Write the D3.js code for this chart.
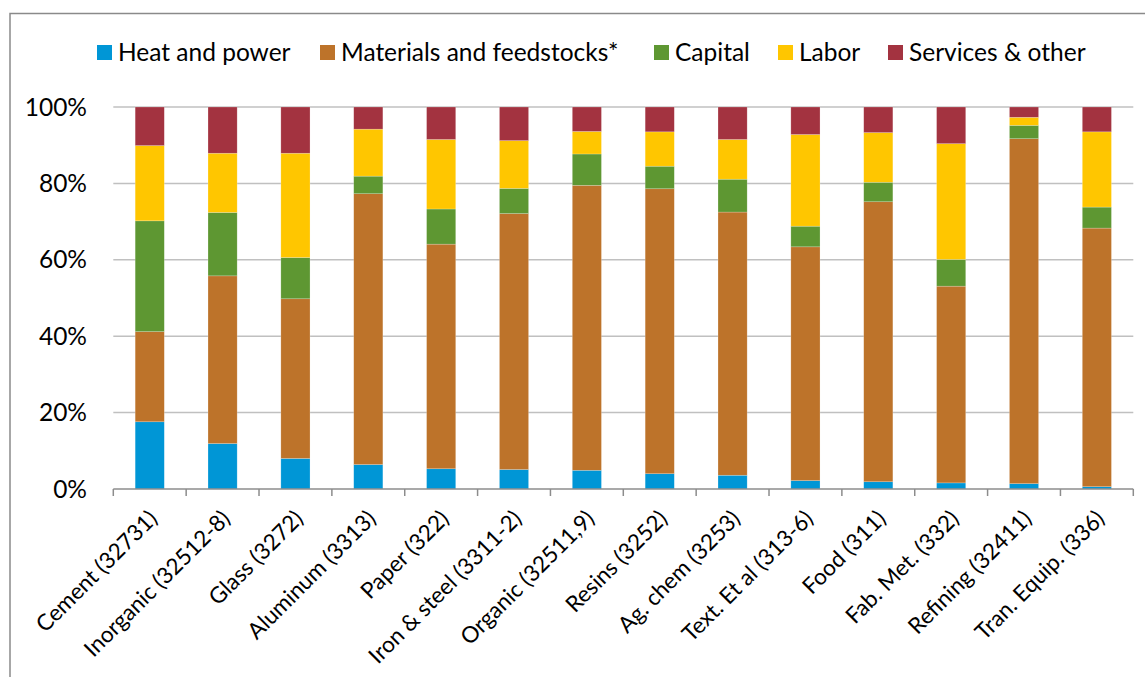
<!DOCTYPE html>
<html>
<head>
<meta charset="utf-8">
<script src="https://cdn.jsdelivr.net/npm/d3@7"></script>
<style>
  html, body { margin: 0; padding: 0; background: #fff; }
  svg { display: block; font-family: Lato, "Open Sans", sans-serif; }
</style>
</head>
<body>
<svg id="chart" width="1145" height="677"></svg>
<script>
const categories = ["Cement (32731)", "Inorganic (32512-8)", "Glass (3272)", "Aluminum (3313)", "Paper (322)",
  "Iron & steel (3311-2)", "Organic (32511,9)", "Resins (3252)", "Ag. chem (3253)", "Text. Et al (313-6)",
  "Food (311)", "Fab. Met. (332)", "Refining (32411)", "Tran. Equip. (336)"];
const seriesNames = ["Heat and power", "Materials and feedstocks*", "Capital", "Labor", "Services & other"];
const heatPower   = [17.6, 11.9,  8.0,  6.4,  5.3,  5.1,  4.9,  4.0,  3.6,  2.2,  1.9,  1.6,  1.4,  0.6];
const materials   = [23.6, 43.9, 41.8, 70.9, 58.8, 67.0, 74.6, 74.6, 68.9, 61.2, 73.3, 51.5, 90.3, 67.7];
const capital     = [29.0, 16.6, 10.8,  4.6,  9.2,  6.6,  8.2,  5.9,  8.6,  5.4,  5.1,  7.0,  3.5,  5.5];
const labor       = [19.7, 15.5, 27.3, 12.3, 18.2, 12.5,  5.9,  9.0, 10.4, 24.0, 13.0, 30.3,  2.1, 19.7];
const services    = [10.1, 12.1, 12.1,  5.8,  8.5,  8.8,  6.4,  6.5,  8.5,  7.2,  6.7,  9.6,  2.7,  6.5];
const yTicks = [0, 0.2, 0.4, 0.6, 0.8, 1.0];
const colors = ["#0096D6", "#BD732A", "#5E9732", "#FFC600", "#A33340"];

const seriesValues = [heatPower, materials, capital, labor, services];
const rows = categories.map((c, i) => {
  const r = { cat: c };
  const tot = d3.sum(seriesValues, s => s[i]);
  seriesNames.forEach((n, k) => r[n] = seriesValues[k][i] / tot);
  return r;
});
const stacked = d3.stack().keys(seriesNames)(rows);

const svg = d3.select("#chart");

// frame
svg.append("rect").attr("x", 10).attr("y", 13.5).attr("width", 1150).attr("height", 700)
  .attr("fill", "none").attr("stroke", "#8a8a8a").attr("stroke-width", 1.5);

const x = d3.scaleBand().domain(categories).range([113.3, 1133.3]).paddingInner(0.6).paddingOuter(0.3);
const y = d3.scaleLinear().domain([0, 1]).range([489, 107]);
const color = d3.scaleOrdinal().domain(seriesNames).range(colors);

// gridlines
svg.append("g").selectAll("line").data(yTicks.filter(t => t > 0)).join("line")
  .attr("x1", 113.3).attr("x2", 1133.3)
  .attr("y1", d => y(d)).attr("y2", d => y(d))
  .attr("stroke", "#c0c0c0").attr("stroke-width", 1.5);

// y labels
svg.append("g").selectAll("text").data(yTicks).join("text")
  .attr("x", 87).attr("y", d => y(d)).attr("dy", "0.35em")
  .attr("text-anchor", "end").attr("font-size", 24.5).attr("fill", "#000")
  .text(d3.format(".0%"));

// bars
svg.append("g").selectAll("g").data(stacked).join("g")
  .attr("fill", d => color(d.key))
  .selectAll("rect").data(d => d).join("rect")
  .attr("x", d => x(d.data.cat))
  .attr("width", x.bandwidth())
  .attr("y", d => y(d[1]))
  .attr("height", d => y(d[0]) - y(d[1]))
  .attr("stroke", "rgba(255,255,255,0.35)").attr("stroke-width", 0.6);

// x axis
const step = x.step();
const x0 = x.range()[0];
svg.append("line").attr("x1", x0).attr("x2", x.range()[1]).attr("y1", 489).attr("y2", 489)
  .attr("stroke", "#8c8c8c").attr("stroke-width", 1.5);
svg.append("g").selectAll("line").data(d3.range(categories.length + 1)).join("line")
  .attr("x1", i => x0 + i * step).attr("x2", i => x0 + i * step)
  .attr("y1", 489).attr("y2", 496)
  .attr("stroke", "#8c8c8c").attr("stroke-width", 1.5);

// x labels
svg.append("g").selectAll("text").data(categories).join("text")
  .attr("transform", d => `translate(${x(d) + x.bandwidth() / 2 + 9},${520}) rotate(-45)`)
  .attr("text-anchor", "end").attr("font-size", 22.5).attr("fill", "#000")
  .text(d => d);

// legend
const legendX = [97, 320, 654, 778, 888];
const lg = svg.append("g").selectAll("g").data(seriesNames).join("g")
  .attr("transform", (d, i) => `translate(${legendX[i]},45)`);
lg.append("rect").attr("width", 15).attr("height", 15).attr("fill", d => color(d));
lg.append("text").attr("x", 21).attr("y", 7.5).attr("dy", "0.36em")
  .attr("font-size", 24.5).attr("fill", "#000").text(d => d);
</script>
</body>
</html>
